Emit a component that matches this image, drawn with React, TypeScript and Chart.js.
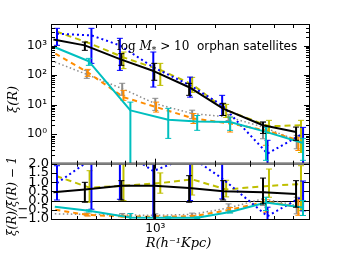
import React, { useEffect, useRef } from 'react';
import { Chart, registerables } from 'chart.js';

Chart.register(...registerables);

// ---------------- data ----------------
// radii (h^-1 Kpc) of each series' points
const R_BLACK = [305, 440, 673, 988, 1484, 2206, 3510, 5160];
const R_BLUE = [318, 475, 662, 977, 1500, 2180, 3700, 5600];
const R_YELLOW = [315, 465, 690, 1060, 1537, 2284, 3763, 5465];
const R_GRAY = [310, 450, 680, 1000, 1537, 2350, 3510, 5200];
const R_ORANGE = [312, 455, 690, 1010, 1560, 2392, 3630, 5300];
const R_CYAN = [310, 461, 748, 1163, 1630, 2392, 3635, 5593];

// top panel: xi(R)
const XI_BLACK = [1600, 1020, 335, 135, 39, 7.3, 2.0, 1.18];
const XI_BLACK_LO = [null, 693, 215, 67, 20.7, 4.3, 1.06, 0.62];
const XI_BLACK_HI = [null, 1324, 535, 251, 52.7, 11.1, 2.57, 1.74];

const XI_BLUE = [2550, 2230, 1020, 185, 45, 9.5, 0.22, 1.05];
const XI_BLUE_LO = [1024, 251, 145, 39.5, 18, 4.3, 0.088, 0.1];
const XI_BLUE_HI = [3855, 3855, 1768, 607, 86, 20.7, 0.62, 1.7];

const XI_YELLOW = [3000, 1200, 400, 150, 49, 6.5, 1.85, 2.0];
const XI_YELLOW_LO = [null, null, 166, 45, 26, 3.7, 1.06, 0.24];
const XI_YELLOW_HI = [null, null, 607, 251, 84, 10.2, 2.94, 2.94];

const XI_GRAY = [280, 106, 35, 10.8, 5.0, 3.8, 1.75, 0.62];
const XI_GRAY_LO = [null, 78, 20.7, 6.4, 3.35, 2.9, 0.7, 0.32];
const XI_GRAY_HI = [null, 145, 53, 16.4, 6.5, 4.7, 2.6, 0.91];

const XI_ORANGE = [535, 124, 18, 8.3, 3.4, 2.3, 1.35, 0.62];
const XI_ORANGE_LO = [null, 91, 14, 5.6, 2.3, 1.18, 0.42, 0.28];
const XI_ORANGE_HI = [null, 157, 30.5, 12.2, 5.0, 3.8, 2.0, 0.8];

const XI_CYAN = [880, 295, 6.4, 3.1, 2.7, 2.6, 1.2, 0.5];
const XI_CYAN_LO = [null, 215, 0.04, 0.72, 1.35, 1.35, 0.13, 0.13];
const XI_CYAN_HI = [null, 370, 12.2, 7.5, 4.3, 3.8, 1.74, 0.72];

// bottom panel: xi(R)/xibar(R) - 1
const RT_BLACK = [0.45, 0.6, 0.8, 0.8, 0.68, 0.5, 0.45, 0.36];
const RT_BLACK_LO = [null, -0.09, 0.03, -1.5, -0.09, 0.03, -0.18, -0.36];
const RT_BLACK_HI = [null, 0.99, 1.08, 3.0, 1.35, 1.08, 1.22, 1.08];

const RT_BLUE = [0.95, 2.25, 2.8, 1.6, 2.4, 1.2, -0.85, 0.25];
const RT_BLUE_LO = [0.03, -0.47, 0.07, -0.92, 0.0, 0.09, -1.2, -0.56];
const RT_BLUE_HI = [1.89, 4.5, 5.0, 4.0, 4.5, 2.3, -0.36, 1.06];

const RT_YELLOW = [1.33, 0.7, 0.8, 0.95, 1.15, 0.6, 0.8, 0.9];
const RT_YELLOW_LO = [null, -0.09, 0.0, 0.4, 0.3, 0.2, 0.18, -0.54];
const RT_YELLOW_HI = [null, 1.62, 1.98, 1.5, 2.0, 1.1, 1.71, 1.89];

const RT_GRAY = [-0.72, -0.75, -0.78, -0.8, -0.75, -0.4, 0.1, -0.27];
const RT_GRAY_LO = [null, -0.82, -0.85, -0.86, -0.82, -0.63, -0.27, -0.72];
const RT_GRAY_HI = [null, -0.68, -0.7, -0.72, -0.68, -0.18, 0.45, 0.18];

const RT_ORANGE = [-0.5, -0.78, -0.86, -0.88, -0.85, -0.5, -0.05, -0.35];
const RT_ORANGE_LO = [null, -0.84, -0.9, -0.92, -0.9, -0.63, -0.63, -0.8];
const RT_ORANGE_HI = [null, -0.72, -0.8, -0.83, -0.8, -0.38, 0.05, 0.05];

const RT_CYAN = [-0.33, -0.55, -0.92, -0.93, -0.93, -0.62, -0.1, -0.38];
const RT_CYAN_LO = [null, -0.62, -1.2, -0.98, -0.97, -0.68, -0.54, -0.81];
const RT_CYAN_HI = [null, -0.5, -0.7, -0.88, -0.88, -0.56, 0.18, 0.0];

// axis limits
const X_MIN = 300, X_MAX = 6000;
const XI_MIN = 0.1, XI_MAX = 5000;
const RT_MIN = -1, RT_MAX = 2, RT_STEP = 0.5;

// texts
const ANNOT_MATH = ['log', ' ', 'M', '*', ' > 10'];
const ANNOT_TEXT = '  orphan satellites';
const YLABEL_TOP = 'ξ(R)';
const YLABEL_BOT = 'ξ(R)/ξ\u0304(R) − 1';
const XLABEL = 'R(h⁻¹Kpc)';

// ---------------- helpers ----------------
const SERIF = '"DejaVu Serif", serif';
const SANS = '"DejaVu Sans", sans-serif';
const SUP: Record<string, string> = { '0': '⁰', '1': '¹', '2': '²', '3': '³', '4': '⁴', '5': '⁵', '6': '⁶', '7': '⁷', '8': '⁸', '9': '⁹', '-': '⁻' };

function isPow10(v: number) {
  if (v <= 0) return false;
  const l = Math.log10(v);
  return Math.abs(l - Math.round(l)) < 1e-6;
}
function intMantissa(v: number) {
  if (v <= 0) return false;
  const e = Math.floor(Math.log10(v) + 1e-9);
  const m = v / Math.pow(10, e);
  return Math.abs(m - Math.round(m)) < 1e-6;
}
function sup(n: number) {
  return String(n).split('').map((c) => SUP[c] || c).join('');
}

function mk(label: string, xs: number[], ys: number[], lo: (number | null)[], hi: (number | null)[], color: string, dash: number[], width: number, axis: string) {
  return {
    label,
    yAxisID: axis,
    data: xs.map((x, i) => ({ x, y: ys[i] })),
    errLo: lo,
    errHi: hi,
    borderColor: color,
    backgroundColor: color,
    borderWidth: width,
    borderDash: dash,
    borderCapStyle: 'butt',
    borderJoinStyle: 'round',
    pointRadius: 0,
    pointHoverRadius: 0,
    fill: false,
    tension: 0,
  };
}

const C_BLACK = '#000000';
const C_BLUE = '#0000ff';
const C_YELLOW = '#bfbf00';
const C_GRAY = '#8c8c8c';
const C_ORANGE = '#ff8c00';
const C_CYAN = '#00bfbf';

const panelClip = {
  id: 'panelClip',
  beforeDatasetDraw(chart: any, args: any) {
    const ds = chart.data.datasets[args.index];
    const ys = chart.scales[ds.yAxisID];
    const xs = chart.scales.x;
    const ctx = chart.ctx;
    ctx.save();
    ctx.beginPath();
    ctx.rect(xs.left, ys.top, xs.right - xs.left, ys.bottom - ys.top);
    ctx.clip();
  },
  afterDatasetDraw(chart: any, args: any) {
    const ds = chart.data.datasets[args.index];
    const ys = chart.scales[ds.yAxisID];
    const xs = chart.scales.x;
    const ctx = chart.ctx;
    if (ds.errLo && ds.errHi) {
      ctx.setLineDash([]);
      ctx.strokeStyle = ds.borderColor;
      ds.data.forEach((p: any, i: number) => {
        const lo = ds.errLo[i];
        const hi = ds.errHi[i];
        if (lo == null || hi == null) return;
        const x = xs.getPixelForValue(p.x);
        const y1 = ys.getPixelForValue(lo);
        const y2 = ys.getPixelForValue(hi);
        ctx.lineWidth = 2;
        ctx.beginPath();
        ctx.moveTo(x, y1);
        ctx.lineTo(x, y2);
        ctx.stroke();
        ctx.lineWidth = 1;
        ctx.beginPath();
        ctx.moveTo(x - 3, y1);
        ctx.lineTo(x + 3, y1);
        ctx.moveTo(x - 3, y2);
        ctx.lineTo(x + 3, y2);
        ctx.stroke();
      });
    }
    ctx.restore();
  },
};

const decor = {
  id: 'decor',
  beforeDatasetsDraw(chart: any) {
    const ctx = chart.ctx;
    const { left, right } = chart.chartArea;
    const yb = chart.scales.y2;
    const y0 = Math.round(yb.getPixelForValue(0)) + 0.5;
    ctx.save();
    ctx.strokeStyle = '#000';
    ctx.lineWidth = 1;
    ctx.beginPath();
    ctx.moveTo(left, y0);
    ctx.lineTo(right, y0);
    ctx.stroke();
    ctx.restore();
  },
  afterDatasetsDraw(chart: any) {
    const ctx = chart.ctx;
    const { left, right } = chart.chartArea;
    const xs = chart.scales.x;
    const yt = chart.scales.y;
    const yb = chart.scales.y2;
    ctx.save();
    ctx.setLineDash([]);
    // frames
    ctx.strokeStyle = '#000';
    ctx.lineWidth = 1;
    ctx.strokeRect(left - 0.5, yt.top - 0.5, right - left + 1, yt.bottom - yt.top + 1);
    ctx.strokeRect(left - 0.5, yb.top - 0.5, right - left + 1, yb.bottom - yb.top + 1);
    ctx.strokeStyle = '#808080';
    ctx.lineWidth = 2;
    ctx.beginPath();
    ctx.moveTo(left, yt.bottom);
    ctx.lineTo(right, yt.bottom);
    ctx.stroke();

    ctx.strokeStyle = '#000';
    ctx.lineWidth = 1;
    ctx.beginPath();
    // x ticks on all horizontal spines
    xs.ticks.forEach((t: any) => {
      const v = t.value;
      if (!intMantissa(v)) return;
      const px = Math.round(xs.getPixelForValue(v)) + 0.5;
      if (px < left + 1 || px > right - 1) return;
      const L = isPow10(v) ? 5 : 3;
      ctx.moveTo(px, yt.top); ctx.lineTo(px, yt.top + L);
      ctx.moveTo(px, yt.bottom); ctx.lineTo(px, yt.bottom - L);
      ctx.moveTo(px, yb.top); ctx.lineTo(px, yb.top + L);
      ctx.moveTo(px, yb.bottom); ctx.lineTo(px, yb.bottom - L);
    });
    // top panel y ticks
    yt.ticks.forEach((t: any) => {
      const v = t.value;
      if (!intMantissa(v)) return;
      const py = Math.round(yt.getPixelForValue(v)) + 0.5;
      if (py < yt.top + 1 || py > yt.bottom - 1) return;
      const L = isPow10(v) ? 5 : 3;
      ctx.moveTo(left, py); ctx.lineTo(left + L, py);
      ctx.moveTo(right, py); ctx.lineTo(right - L, py);
    });
    // bottom panel y ticks
    yb.ticks.forEach((t: any) => {
      const py = Math.round(yb.getPixelForValue(t.value)) + 0.5;
      ctx.moveTo(left, py); ctx.lineTo(left + 5, py);
      ctx.moveTo(right, py); ctx.lineTo(right - 5, py);
    });
    ctx.stroke();
    ctx.restore();
  },
  afterDraw(chart: any) {
    const ctx = chart.ctx;
    const yt = chart.scales.y;
    const yb = chart.scales.y2;
    const xs = chart.scales.x;
    ctx.save();
    ctx.fillStyle = '#000';
    ctx.textBaseline = 'alphabetic';
    ctx.textAlign = 'left';
    // annotation
    let x = 117;
    const base = 50;
    const runs = [
      { t: ANNOT_MATH[0], f: `12px ${SERIF}`, dy: 0 },
      { t: ANNOT_MATH[1], f: `12px ${SERIF}`, dy: 0 },
      { t: ANNOT_MATH[2], f: `italic 12px ${SERIF}`, dy: 0 },
      { t: ANNOT_MATH[3], f: `9px ${SERIF}`, dy: 3 },
      { t: ANNOT_MATH[4], f: `12px ${SERIF}`, dy: 0 },
      { t: ANNOT_TEXT, f: `12px ${SANS}`, dy: 0 },
    ];
    runs.forEach((r) => {
      ctx.font = r.f;
      ctx.fillText(r.t, x, base + r.dy);
      x += ctx.measureText(r.t).width;
    });
    // axis titles
    ctx.textAlign = 'center';
    ctx.textBaseline = 'middle';
    ctx.font = `italic 13px ${SERIF}`;
    ctx.fillText(XLABEL, (xs.left + xs.right) / 2 - 2, 244);
    ctx.save();
    ctx.translate(14, (yt.top + yt.bottom) / 2 + 5);
    ctx.rotate(-Math.PI / 2);
    ctx.fillText(YLABEL_TOP, 0, 0);
    ctx.restore();
    ctx.save();
    ctx.font = `italic 12px ${SERIF}`;
    ctx.translate(13, (yb.top + yb.bottom) / 2 + 5);
    ctx.rotate(-Math.PI / 2);
    ctx.fillText(YLABEL_BOT, 0, 0);
    ctx.restore();
    ctx.restore();
  },
};

export default function App() {
  const ref = useRef<HTMLCanvasElement>(null);
  useEffect(() => {
    const datasets: any[] = [
      mk('black', R_BLACK, XI_BLACK, XI_BLACK_LO, XI_BLACK_HI, C_BLACK, [], 2, 'y'),
      mk('black ratio', R_BLACK, RT_BLACK, RT_BLACK_LO, RT_BLACK_HI, C_BLACK, [], 2, 'y2'),
      mk('cyan', R_CYAN, XI_CYAN, XI_CYAN_LO, XI_CYAN_HI, C_CYAN, [], 2, 'y'),
      mk('cyan ratio', R_CYAN, RT_CYAN, RT_CYAN_LO, RT_CYAN_HI, C_CYAN, [], 2, 'y2'),
      mk('blue', R_BLUE, XI_BLUE, XI_BLUE_LO, XI_BLUE_HI, C_BLUE, [2, 3], 2, 'y'),
      mk('blue ratio', R_BLUE, RT_BLUE, RT_BLUE_LO, RT_BLUE_HI, C_BLUE, [2, 3], 2, 'y2'),
      mk('yellow', R_YELLOW, XI_YELLOW, XI_YELLOW_LO, XI_YELLOW_HI, C_YELLOW, [6, 4], 2, 'y'),
      mk('yellow ratio', R_YELLOW, RT_YELLOW, RT_YELLOW_LO, RT_YELLOW_HI, C_YELLOW, [6, 4], 2, 'y2'),
      mk('orange', R_ORANGE, XI_ORANGE, XI_ORANGE_LO, XI_ORANGE_HI, C_ORANGE, [5, 4], 2, 'y'),
      mk('orange ratio', R_ORANGE, RT_ORANGE, RT_ORANGE_LO, RT_ORANGE_HI, C_ORANGE, [5, 4], 2, 'y2'),
      mk('gray', R_GRAY, XI_GRAY, XI_GRAY_LO, XI_GRAY_HI, C_GRAY, [1.5, 2.5], 1.5, 'y'),
      mk('gray ratio', R_GRAY, RT_GRAY, RT_GRAY_LO, RT_GRAY_HI, C_GRAY, [1.5, 2.5], 1.5, 'y2'),
    ];
    const tickFont = { family: 'DejaVu Sans', size: 12 };
    const chart = new Chart(ref.current as HTMLCanvasElement, {
      type: 'line',
      data: { datasets },
      options: {
        responsive: false,
        devicePixelRatio: 1,
        animation: false,
        events: [],
        layout: { padding: { top: 25, right: 35, left: 0, bottom: 0 } },
        plugins: { legend: { display: false }, tooltip: { enabled: false } },
        scales: {
          x: {
            type: 'logarithmic',
            position: 'bottom',
            min: X_MIN,
            max: X_MAX,
            grid: { display: false, drawTicks: false },
            border: { display: false },
            ticks: {
              autoSkip: false,
              maxRotation: 0,
              padding: 3,
              color: '#000',
              font: tickFont,
              callback: (v: any) => (isPow10(Number(v)) ? '10' + sup(Math.round(Math.log10(Number(v)))) : ''),
            },
            afterFit: (s: any) => { s.height = 39; },
          },
          y: {
            type: 'logarithmic',
            position: 'left',
            stack: 'panels',
            stackWeight: 138.7,
            weight: 2,
            min: XI_MIN,
            max: XI_MAX,
            grid: { display: false, drawTicks: false },
            border: { display: false },
            ticks: {
              autoSkip: false,
              padding: 5,
              color: '#000',
              font: tickFont,
              callback: (v: any) => {
                const n = Number(v);
                return isPow10(n) && n >= 1 ? '10' + sup(Math.round(Math.log10(n))) : '';
              },
            },
            afterFit: (s: any) => { s.width = 52; },
          },
          y2: {
            type: 'linear',
            position: 'left',
            stack: 'panels',
            stackWeight: 55.3,
            weight: 1,
            min: RT_MIN,
            max: RT_MAX,
            grid: { display: false, drawTicks: false },
            border: { display: false },
            ticks: {
              autoSkip: false,
              stepSize: RT_STEP,
              padding: 3,
              color: '#000',
              font: { family: 'DejaVu Sans', size: 13 },
              callback: (v: any) => Number(v).toFixed(1).replace('-', '−'),
            },
            afterFit: (s: any) => { s.width = 52; },
          },
        },
      } as any,
      plugins: [panelClip, decor],
    } as any);
    return () => chart.destroy();
  }, []);
  return (
    <div style={{ position: 'fixed', left: 0, top: 0, width: 344, height: 258, background: '#fff' }}>
      <canvas ref={ref} width={344} height={258} style={{ width: 344, height: 258, display: 'block' }} />
    </div>
  );
}
